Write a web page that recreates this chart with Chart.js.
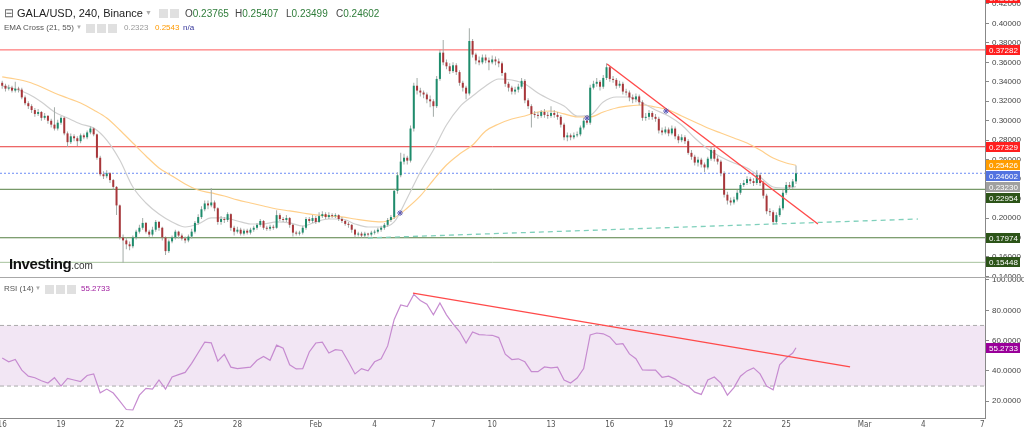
<!DOCTYPE html>
<html>
<head>
<meta charset="utf-8">
<script src="https://cdn.jsdelivr.net/npm/chart.js@4.4.1/dist/chart.umd.min.js"></script>
<style>
  body { margin: 0; background: #fff; width: 1024px; height: 431px; overflow: hidden; position: relative; font-family: Arial, "Liberation Sans", sans-serif; }
  canvas { position: absolute; left: 0; }
  #price { top: 0; }
  #rsi { top: 277px; }
  .t { position: absolute; white-space: nowrap; z-index: 2; }
  .ico { position: absolute; width: 9px; height: 9px; background: #e0e0e0; z-index: 2; }
</style>
</head>
<body>
<canvas id="price" width="1024" height="277"></canvas>
<canvas id="rsi" width="1024" height="154"></canvas>

<!-- header -->
<div class="t" style="left:4px;top:6px;font-size:12px;color:#666">&#x229F;</div>
<div class="t" style="left:17px;top:7px;font-size:11px;color:#222">GALA/USD, 240, Binance</div>
<div class="t" style="left:145px;top:9px;font-size:7px;color:#aaa">&#x25BC;</div>
<div class="ico" style="left:159px;top:9px"></div>
<div class="ico" style="left:170px;top:9px"></div>
<div class="t" style="left:185px;top:8px;font-size:10px;color:#444">O<span style="color:#2f7d3a">0.23765</span></div>
<div class="t" style="left:235px;top:8px;font-size:10px;color:#444">H<span style="color:#2f7d3a">0.25407</span></div>
<div class="t" style="left:286px;top:8px;font-size:10px;color:#444">L<span style="color:#2f7d3a">0.23499</span></div>
<div class="t" style="left:336px;top:8px;font-size:10px;color:#444">C<span style="color:#2f7d3a">0.24602</span></div>

<div class="t" style="left:4px;top:23px;font-size:8px;color:#555">EMA Cross (21, 55)</div>
<div class="t" style="left:76px;top:24px;font-size:6px;color:#aaa">&#x25BC;</div>
<div class="ico" style="left:86px;top:24px"></div>
<div class="ico" style="left:97px;top:24px"></div>
<div class="ico" style="left:108px;top:24px"></div>
<div class="t" style="left:124px;top:23px;font-size:8px;color:#999">0.2323</div>
<div class="t" style="left:155px;top:23px;font-size:8px;color:#f90">0.2543</div>
<div class="t" style="left:183px;top:23px;font-size:8px;color:#339">n/a</div>

<div class="t" style="left:9px;top:255px;font-size:15px;font-weight:bold;color:#111;letter-spacing:-0.4px">Investing<span style="font-size:10px;font-weight:normal;color:#333;letter-spacing:0">.com</span></div>

<div class="t" style="left:4px;top:284px;font-size:8px;color:#555">RSI (14)</div>
<div class="t" style="left:35px;top:285px;font-size:6px;color:#aaa">&#x25BC;</div>
<div class="ico" style="left:45px;top:285px"></div>
<div class="ico" style="left:56px;top:285px"></div>
<div class="ico" style="left:67px;top:285px"></div>
<div class="t" style="left:81px;top:284px;font-size:8px;color:#a020a0">55.2733</div>

<script>
// 4h candles, first one on Jan 16 00:00 (x unit = day of year)
const firstDay = 16;
const closes = [
  0.336, 0.333, 0.334, 0.331, 0.333, 0.332, 0.324, 0.318, 0.315, 0.311,
  0.307, 0.309, 0.303, 0.305, 0.300, 0.296, 0.292, 0.298, 0.303, 0.287,
  0.278, 0.284, 0.282, 0.279, 0.285, 0.283, 0.288, 0.292, 0.286, 0.262,
  0.245, 0.243, 0.246, 0.239, 0.232, 0.213, 0.180, 0.177, 0.173, 0.171,
  0.180, 0.186, 0.190, 0.195, 0.186, 0.183, 0.188, 0.196, 0.190, 0.180,
  0.166, 0.176, 0.180, 0.186, 0.182, 0.179, 0.177, 0.181, 0.186, 0.195,
  0.201, 0.209, 0.215, 0.213, 0.216, 0.210, 0.196, 0.199, 0.198, 0.204,
  0.190, 0.186, 0.188, 0.184, 0.187, 0.185, 0.188, 0.190, 0.193, 0.197,
  0.190, 0.189, 0.191, 0.190, 0.203, 0.199, 0.198, 0.200, 0.193, 0.185,
  0.184, 0.185, 0.190, 0.199, 0.197, 0.200, 0.196, 0.202, 0.204, 0.201,
  0.203, 0.202, 0.203, 0.199, 0.197, 0.194, 0.193, 0.188, 0.183, 0.184,
  0.182, 0.184, 0.183, 0.185, 0.186, 0.188, 0.190, 0.193, 0.198, 0.201,
  0.228, 0.244, 0.258, 0.262, 0.259, 0.292, 0.336, 0.331, 0.329, 0.327,
  0.322, 0.320, 0.315, 0.343, 0.370, 0.360, 0.356, 0.351, 0.357, 0.350,
  0.339, 0.334, 0.328, 0.382, 0.368, 0.362, 0.360, 0.365, 0.362, 0.360,
  0.363, 0.361, 0.359, 0.349, 0.338, 0.334, 0.330, 0.332, 0.335, 0.341,
  0.321, 0.315, 0.307, 0.306, 0.305, 0.309, 0.306, 0.305, 0.308, 0.306,
  0.304, 0.296, 0.283, 0.285, 0.283, 0.285, 0.286, 0.293, 0.300, 0.298,
  0.334, 0.338, 0.340, 0.335, 0.344, 0.355, 0.343, 0.342, 0.336, 0.338,
  0.330, 0.329, 0.324, 0.322, 0.325, 0.319, 0.303, 0.304, 0.308, 0.304,
  0.302, 0.290, 0.288, 0.291, 0.287, 0.292, 0.284, 0.280, 0.283, 0.279,
  0.267, 0.263, 0.257, 0.260, 0.255, 0.252, 0.261, 0.270, 0.261, 0.258,
  0.246, 0.224, 0.218, 0.216, 0.219, 0.226, 0.234, 0.236, 0.240, 0.238,
  0.236, 0.244, 0.236, 0.223, 0.207, 0.206, 0.196, 0.203, 0.210, 0.226,
  0.234, 0.232, 0.23765, 0.24602
];
const highs = [
  0.341, 0.338, 0.337, 0.336, 0.340, 0.335, 0.334, 0.326, 0.320, 0.317,
  0.313, 0.312, 0.310, 0.308, 0.306, 0.302, 0.314, 0.301, 0.305, 0.304,
  0.289, 0.287, 0.286, 0.284, 0.287, 0.287, 0.290, 0.294, 0.293, 0.287,
  0.264, 0.248, 0.249, 0.247, 0.240, 0.233, 0.214, 0.183, 0.180, 0.176,
  0.182, 0.188, 0.193, 0.200, 0.196, 0.188, 0.191, 0.198, 0.197, 0.191,
  0.181, 0.178, 0.182, 0.188, 0.187, 0.184, 0.181, 0.183, 0.189, 0.197,
  0.204, 0.212, 0.218, 0.218, 0.231, 0.218, 0.211, 0.202, 0.201, 0.206,
  0.205, 0.192, 0.191, 0.190, 0.189, 0.189, 0.190, 0.192, 0.195, 0.199,
  0.198, 0.192, 0.193, 0.193, 0.208, 0.205, 0.201, 0.203, 0.201, 0.194,
  0.187, 0.187, 0.192, 0.201, 0.201, 0.203, 0.202, 0.206, 0.207, 0.206,
  0.206, 0.205, 0.205, 0.204, 0.201, 0.198, 0.196, 0.194, 0.189, 0.186,
  0.186, 0.186, 0.185, 0.187, 0.188, 0.190, 0.192, 0.195, 0.200, 0.203,
  0.230, 0.247, 0.267, 0.266, 0.264, 0.295, 0.339, 0.344, 0.334, 0.331,
  0.329, 0.326, 0.322, 0.346, 0.373, 0.383, 0.363, 0.359, 0.360, 0.359,
  0.352, 0.341, 0.336, 0.395, 0.384, 0.370, 0.366, 0.368, 0.368, 0.365,
  0.367, 0.366, 0.364, 0.361, 0.350, 0.340, 0.336, 0.335, 0.338, 0.344,
  0.343, 0.323, 0.317, 0.310, 0.309, 0.311, 0.312, 0.309, 0.315, 0.311,
  0.309, 0.306, 0.298, 0.288, 0.287, 0.288, 0.289, 0.295, 0.303, 0.303,
  0.337, 0.341, 0.344, 0.342, 0.347, 0.359, 0.356, 0.346, 0.344, 0.341,
  0.340, 0.333, 0.331, 0.327, 0.328, 0.327, 0.321, 0.308, 0.311, 0.310,
  0.307, 0.304, 0.293, 0.294, 0.293, 0.295, 0.294, 0.286, 0.286, 0.285,
  0.281, 0.270, 0.265, 0.263, 0.262, 0.257, 0.263, 0.274, 0.272, 0.264,
  0.260, 0.248, 0.227, 0.221, 0.222, 0.229, 0.236, 0.239, 0.243, 0.242,
  0.241, 0.249, 0.246, 0.238, 0.225, 0.210, 0.208, 0.206, 0.213, 0.229,
  0.237, 0.237, 0.240, 0.25407
];
const lows = [
  0.333, 0.330, 0.331, 0.329, 0.329, 0.329, 0.322, 0.316, 0.312, 0.308,
  0.304, 0.305, 0.300, 0.301, 0.297, 0.293, 0.290, 0.290, 0.296, 0.285,
  0.273, 0.276, 0.279, 0.274, 0.277, 0.281, 0.281, 0.286, 0.284, 0.260,
  0.243, 0.240, 0.241, 0.236, 0.229, 0.203, 0.178, 0.154, 0.168, 0.167,
  0.169, 0.178, 0.184, 0.188, 0.184, 0.180, 0.181, 0.186, 0.187, 0.177,
  0.162, 0.164, 0.174, 0.178, 0.179, 0.177, 0.174, 0.175, 0.179, 0.184,
  0.193, 0.199, 0.207, 0.209, 0.211, 0.207, 0.193, 0.193, 0.195, 0.196,
  0.187, 0.182, 0.184, 0.182, 0.182, 0.183, 0.183, 0.186, 0.188, 0.191,
  0.188, 0.187, 0.187, 0.188, 0.189, 0.197, 0.196, 0.196, 0.190, 0.181,
  0.182, 0.182, 0.183, 0.188, 0.195, 0.195, 0.194, 0.195, 0.200, 0.199,
  0.199, 0.200, 0.200, 0.197, 0.195, 0.192, 0.190, 0.185, 0.180, 0.181,
  0.180, 0.180, 0.181, 0.181, 0.183, 0.184, 0.186, 0.188, 0.191, 0.196,
  0.199, 0.225, 0.242, 0.255, 0.255, 0.257, 0.289, 0.327, 0.325, 0.323,
  0.318, 0.314, 0.304, 0.313, 0.341, 0.357, 0.353, 0.348, 0.349, 0.347,
  0.336, 0.330, 0.322, 0.326, 0.365, 0.358, 0.357, 0.358, 0.359, 0.352,
  0.358, 0.357, 0.355, 0.346, 0.335, 0.330, 0.327, 0.327, 0.329, 0.333,
  0.318, 0.312, 0.293, 0.303, 0.302, 0.303, 0.303, 0.302, 0.303, 0.303,
  0.301, 0.293, 0.280, 0.279, 0.280, 0.281, 0.283, 0.284, 0.291, 0.296,
  0.296, 0.332, 0.335, 0.331, 0.333, 0.342, 0.340, 0.339, 0.333, 0.334,
  0.327, 0.326, 0.320, 0.318, 0.319, 0.316, 0.300, 0.300, 0.301, 0.301,
  0.299, 0.287, 0.285, 0.286, 0.284, 0.285, 0.281, 0.277, 0.278, 0.276,
  0.265, 0.260, 0.254, 0.253, 0.252, 0.247, 0.250, 0.259, 0.258, 0.255,
  0.243, 0.221, 0.214, 0.213, 0.214, 0.217, 0.224, 0.232, 0.234, 0.235,
  0.233, 0.234, 0.233, 0.220, 0.204, 0.202, 0.193, 0.194, 0.201, 0.208,
  0.224, 0.229, 0.230, 0.23499
];
const firstOpen = 0.339;

// EMA values read every 4th candle (last one = last candle)
const ema21 = [
  0.3357, 0.3326, 0.3275, 0.3193, 0.3090, 0.3028, 0.2967, 0.2926, 0.2802, 0.2597,
  0.2319, 0.2155, 0.2042, 0.1960, 0.1908, 0.1939, 0.2001, 0.2001, 0.1970, 0.1939,
  0.1939, 0.1960, 0.1950, 0.1918, 0.1960, 0.1990, 0.1990, 0.1939, 0.1908, 0.1908,
  0.1960, 0.2206, 0.2473, 0.2699, 0.2956, 0.3141, 0.3254, 0.3357, 0.3429, 0.3419,
  0.3378, 0.3285, 0.3213, 0.3152, 0.3049, 0.3059, 0.3193, 0.3244, 0.3244, 0.3183,
  0.3111, 0.3049, 0.2956, 0.2823, 0.2710, 0.2628, 0.2566, 0.2515, 0.2422, 0.2319,
  0.2309, 0.2323
];
const ema55 = [
  0.3450, 0.3429, 0.3398, 0.3347, 0.3285, 0.3234, 0.3183, 0.3111, 0.3028, 0.2905,
  0.2771, 0.2638, 0.2515, 0.2432, 0.2350, 0.2288, 0.2258, 0.2227, 0.2186, 0.2155,
  0.2124, 0.2093, 0.2073, 0.2052, 0.2032, 0.2021, 0.2011, 0.1990, 0.1970, 0.1960,
  0.2001, 0.2103, 0.2227, 0.2391, 0.2545, 0.2658, 0.2751, 0.2895, 0.2967, 0.3018,
  0.3049, 0.3090, 0.3100, 0.3070, 0.3039, 0.3039, 0.3090, 0.3131, 0.3152, 0.3162,
  0.3141, 0.3111, 0.3049, 0.2987, 0.2926, 0.2874, 0.2823, 0.2771, 0.2699, 0.2617,
  0.2566, 0.2543
];
const emaStep = 4;

// RSI(14) read every 2nd candle (last one = last candle)
const rsi = [
  48.5, 46, 47.5, 40.5, 36.5, 35.5, 33.5, 32, 35.5, 30,
  35, 34, 33, 37, 38, 25.5, 28, 25.4, 20, 14.5,
  14.2, 24, 28.5, 28, 34, 28, 36, 37.5, 39, 45,
  52, 59, 58.5, 46.5, 51, 42.5, 41.5, 42, 42.5, 47,
  49.5, 47, 57, 55, 44, 41.3, 41.5, 52.5, 58.4, 59,
  51.8, 54, 53.5, 46, 38, 41.5, 40, 46, 48, 56.5,
  74, 83.5, 82.5, 90.5, 86.5, 84, 77, 84.8, 77, 71,
  66, 58.4, 65.7, 64, 63.7, 63.5, 62, 51, 47.5, 48,
  46, 39.5, 39.5, 42.6, 42, 42.5, 34, 32, 35.3, 41.5,
  63.7, 65, 64.5, 62.4, 57.5, 58, 51.2, 48, 40.6, 40.5,
  40.5, 35.8, 36.5, 34.6, 31.5, 30, 26, 24.5, 34, 36,
  32, 24, 29, 36.5, 40, 42, 38, 30, 27.5, 44,
  48.5, 51.8, 55.2733
];
const rsiStep = 2;

// horizontal levels
const levelValues = [0.37282, 0.27329, 0.24602, 0.22954, 0.17974, 0.15448];
const levelColors = ['#ff5a5a', '#e83a3a', '#6d8cf5', '#557f42', '#557f42', '#a6c29c'];
const levelDash = [[], [], [2, 2], [], [], []];

// right-side price tags
const tagValues = [0.42650, 0.37282, 0.27329, 0.25426, 0.24602, 0.23230, 0.22954, 0.17974, 0.15448];
const tagColors = ['#ff1f1f', '#ff1f1f', '#ff1f1f', '#ff9c00', '#5273e0', '#a0a0a0', '#2c5418', '#2c5418', '#2c5418'];

// trend lines (day, price)
const downTrendDays = [46.86, 57.62];
const downTrendPrices = [0.3583, 0.1939];
const supportDays = [34.66, 62.72];
const supportPrices = [0.1795, 0.1990];
const crossDays = [36.30, 45.84, 49.87];
const crossPrices = [0.2052, 0.3028, 0.3100];
const rsiTrendDays = [36.96, 59.26];
const rsiTrendValues = [91.4, 42.6];
const rsiBands = [70, 30];

// axes
const tickDays = [16, 19, 22, 25, 28, 32, 35, 38, 41, 44, 47, 50, 53, 56, 60, 63, 66];
const tickLabels = ['16', '19', '22', '25', '28', 'Feb', '4', '7', '10', '13', '16', '19', '22', '25', 'Mar', '4', '7'];
const priceTicks = [0.14, 0.16, 0.18, 0.20, 0.22, 0.24, 0.26, 0.28, 0.30, 0.32, 0.34, 0.36, 0.38, 0.40, 0.42];
const rsiTicks = [20, 40, 60, 80, 100];

const X_MIN = 15.888, X_MAX = 66.143;
const P_MIN = 0.13940, P_MAX = 0.42411;
const R_MIN = 8.91, R_MAX = 101.98;
const UP = '#1e8c6c', DOWN = '#a8363a', WICK = '#a3aba7';

const candleDays = closes.map((_, i) => firstDay + i / 6);
const opens = closes.map((c, i) => i ? closes[i - 1] : firstOpen);
const sampleDay = (step, n) => (k) => (k === n - 1 ? candleDays[candleDays.length - 1] : candleDays[k * step]);
const emaDay = sampleDay(emaStep, ema21.length);
const rsiDay = sampleDay(rsiStep, rsi.length);

const tagPlugin = {
  id: 'tags',
  afterDraw(chart, args, o) {
    if (!o.values) return;
    const ctx = chart.ctx, ys = chart.scales.y, x0 = chart.chartArea.right + 1;
    const items = o.values.map((v, i) => ({ v, c: o.colors[i], p: ys.getPixelForValue(v) }))
      .sort((a, b) => a.p - b.p);
    let prev = -1e9;
    ctx.save();
    ctx.font = '8px Arial, "Liberation Sans", sans-serif';
    ctx.textBaseline = 'middle';
    items.forEach(it => {
      const top = Math.max(Math.round(it.p - 5), prev + 1);
      ctx.fillStyle = it.c;
      ctx.fillRect(x0, top, 34, 10);
      ctx.fillStyle = '#fff';
      ctx.fillText(it.v.toFixed(o.digits), x0 + 3, top + 5.5);
      prev = top + 10;
    });
    if (o.topLine) {
      ctx.fillStyle = '#a8a8a8';
      ctx.fillRect(0, 0, chart.width, 1);
    }
    ctx.restore();
  }
};

const baseY = (min, max, ticks, digits) => ({
  position: 'right', min, max,
  afterFit: s => { s.width = 39; s.paddingTop = 0; s.paddingBottom = 0; },
  afterBuildTicks: s => { s.ticks = ticks.map(v => ({ value: v })); },
  ticks: { autoSkip: false, color: '#444', padding: 3, font: { size: 8, family: 'Arial, "Liberation Sans", sans-serif' }, callback: v => v.toFixed(digits) },
  grid: { drawOnChartArea: false, tickLength: 4, color: '#888' },
  border: { display: true, color: '#888' }
});

const hline = (v, color, dash, order) => ({
  type: 'line', data: [{ x: X_MIN, y: v }, { x: X_MAX, y: v }],
  borderColor: color, borderWidth: 1, borderDash: dash, pointRadius: 0, order
});

const priceSets = [
  ...levelValues.map((v, i) => hline(v, levelColors[i], levelDash[i], 10)),
  { type: 'line', data: ema55.map((v, k) => ({ x: emaDay(k), y: v })), borderColor: '#ffcf8a', borderWidth: 1.2, pointRadius: 0, cubicInterpolationMode: 'monotone', order: 8 },
  { type: 'line', data: ema21.map((v, k) => ({ x: emaDay(k), y: v })), borderColor: '#cfcfcf', borderWidth: 1.2, pointRadius: 0, cubicInterpolationMode: 'monotone', order: 7 },
  { type: 'bar', data: candleDays.map((d, i) => ({ x: d, y: [lows[i], highs[i]] })), backgroundColor: WICK, barThickness: 1, grouped: false, inflateAmount: 0, order: 4 },
  { type: 'bar', data: candleDays.map((d, i) => ({ x: d, y: [opens[i], closes[i]] })), backgroundColor: closes.map((c, i) => c >= opens[i] ? UP : DOWN), barThickness: 2, minBarLength: 1, grouped: false, inflateAmount: 0, order: 3 },
  { type: 'line', data: supportDays.map((d, i) => ({ x: d, y: supportPrices[i] })), borderColor: '#7fd0bb', borderWidth: 1.3, borderDash: [5, 4], pointRadius: 0, order: 2 },
  { type: 'line', data: downTrendDays.map((d, i) => ({ x: d, y: downTrendPrices[i] })), borderColor: '#ff4a4a', borderWidth: 1.4, pointRadius: 0, order: 1 },
  { type: 'line', data: crossDays.map((d, i) => ({ x: d, y: crossPrices[i] })), showLine: false, pointStyle: 'star', pointRadius: 3, borderColor: '#5a5ab8', borderWidth: 1, order: 0 }
];

new Chart(document.getElementById('price'), {
  type: 'line',
  data: { datasets: priceSets },
  options: {
    responsive: false, animation: false, events: [],
    layout: { padding: 0, autoPadding: false },
    plugins: { legend: { display: false }, tooltip: { enabled: false }, tags: { values: tagValues, colors: tagColors, digits: 5 } },
    scales: {
      x: { type: 'linear', min: X_MIN, max: X_MAX, display: false, offset: false },
      y: baseY(P_MIN, P_MAX, priceTicks, 5)
    }
  },
  plugins: [tagPlugin]
});

const rsiSets = [
  { ...hline(rsiBands[0], '#aaaaaa', [4, 3], 10), fill: '+1', backgroundColor: 'rgba(190,130,200,0.2)' },
  hline(rsiBands[1], '#aaaaaa', [4, 3], 9),
  { type: 'line', data: rsi.map((v, k) => ({ x: rsiDay(k), y: v })), borderColor: '#c68bd0', borderWidth: 1.2, pointRadius: 0, order: 2 },
  { type: 'line', data: rsiTrendDays.map((d, i) => ({ x: d, y: rsiTrendValues[i] })), borderColor: '#ff4a4a', borderWidth: 1.3, pointRadius: 0, order: 1 }
];

new Chart(document.getElementById('rsi'), {
  type: 'line',
  data: { datasets: rsiSets },
  options: {
    responsive: false, animation: false, events: [],
    layout: { padding: 0, autoPadding: false },
    plugins: { legend: { display: false }, tooltip: { enabled: false }, tags: { values: [rsi[rsi.length - 1]], colors: ['#990099'], digits: 4, topLine: true } },
    scales: {
      x: {
        type: 'linear', min: X_MIN, max: X_MAX, offset: false,
        afterFit: s => { s.height = 13; s.paddingLeft = 0; s.paddingRight = 0; },
        afterBuildTicks: s => { s.ticks = tickDays.map(v => ({ value: v })); },
        ticks: { autoSkip: false, maxRotation: 0, padding: 2, color: '#555', font: { size: 8, family: '"Liberation Sans Narrow", "DejaVu Sans Condensed", Arial, sans-serif' }, callback: v => { const k = tickDays.indexOf(v); return k < 0 ? '' : tickLabels[k]; } },
        grid: { display: false, drawTicks: false, tickLength: 0 },
        border: { display: true, color: '#888' }
      },
      y: baseY(R_MIN, R_MAX, rsiTicks, 4)
    }
  },
  plugins: [tagPlugin]
});
</script>
</body>
</html>
